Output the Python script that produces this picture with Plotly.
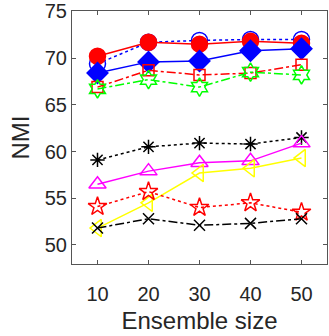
import plotly.graph_objects as go

ensemble_size = [10, 20, 30, 40, 50]

# NMI values per method
red_circle = [70.2, 71.7, 71.5, 71.8, 71.6]
blue_circle = [69.4, 71.7, 71.9, 72.0, 72.0]
blue_diamond = [68.4, 69.6, 69.7, 70.8, 71.0]
red_square = [66.9, 68.7, 68.2, 68.4, 69.3]
green_hexagram = [66.7, 67.7, 66.9, 68.5, 68.2]
black_asterisk = [59.1, 60.5, 60.9, 60.8, 61.5]
magenta_triangle = [56.5, 57.9, 58.8, 59.0, 60.9]
yellow_triangle = [51.8, 54.5, 57.7, 58.2, 59.3]
red_star = [54.1, 55.7, 54.0, 54.5, 53.5]
black_x = [51.8, 52.8, 52.1, 52.3, 52.8]

series = [
    (blue_circle, "#0000ff", "dot", "circle-open", 16),
    (red_circle, "#ff0000", "solid", "circle", 16),
    (blue_diamond, "#0000ff", "solid", "diamond", 16),
    (red_square, "#ff0000", "dashdot", "square-open", 11),
    (green_hexagram, "#00ff00", "dashdot", "hexagram-open", 14),
    (black_asterisk, "#000000", "dot", "asterisk-open", 12),
    (magenta_triangle, "#ff00ff", "solid", "triangle-up-open", 15),
    (yellow_triangle, "#ffff00", "solid", "triangle-left-open", 15),
    (red_star, "#ff0000", "dot", "star-open", 14),
    (black_x, "#000000", "dashdot", "x-thin-open", 11),
]

fig = go.Figure()
for values, color, dash, symbol, size in series:
    fig.add_trace(go.Scatter(
        x=ensemble_size, y=values, mode="lines+markers",
        line=dict(color=color, width=1.5, dash=dash),
        marker=dict(symbol=symbol, size=size, color=color,
                    line=dict(color=color, width=1.5)),
        showlegend=False))

font_name = "Liberation Sans"
axis_common = dict(
    showgrid=False, zeroline=False, showline=True, mirror="ticks",
    linecolor="#555555", linewidth=1, ticks="inside", ticklen=4,
    tickcolor="#555555", automargin=False, ticklabeloverflow="allow",
    tickfont=dict(family=font_name, size=20, color="#262626"),
)
title_font = dict(family=font_name, size=24, color="#262626")

fig.update_layout(
    width=329, height=336,
    margin=dict(l=72, r=2, t=11, b=72),
    plot_bgcolor="white", paper_bgcolor="white",
    xaxis=dict(range=[5, 55], tickvals=ensemble_size, ticklabelstandoff=12,
               title=dict(text="Ensemble size", standoff=8, font=title_font),
               **axis_common),
    yaxis=dict(range=[47.95, 75.05], tickvals=[50, 55, 60, 65, 70, 75],
               title=dict(text="NMI", standoff=8, font=title_font),
               **axis_common),
)

# the page's default body margin would shift the chart and add scrollbars
fig.write_html("out.html", config={"displayModeBar": False},
               post_script="document.body.style.margin='0';document.body.style.overflow='hidden';")
